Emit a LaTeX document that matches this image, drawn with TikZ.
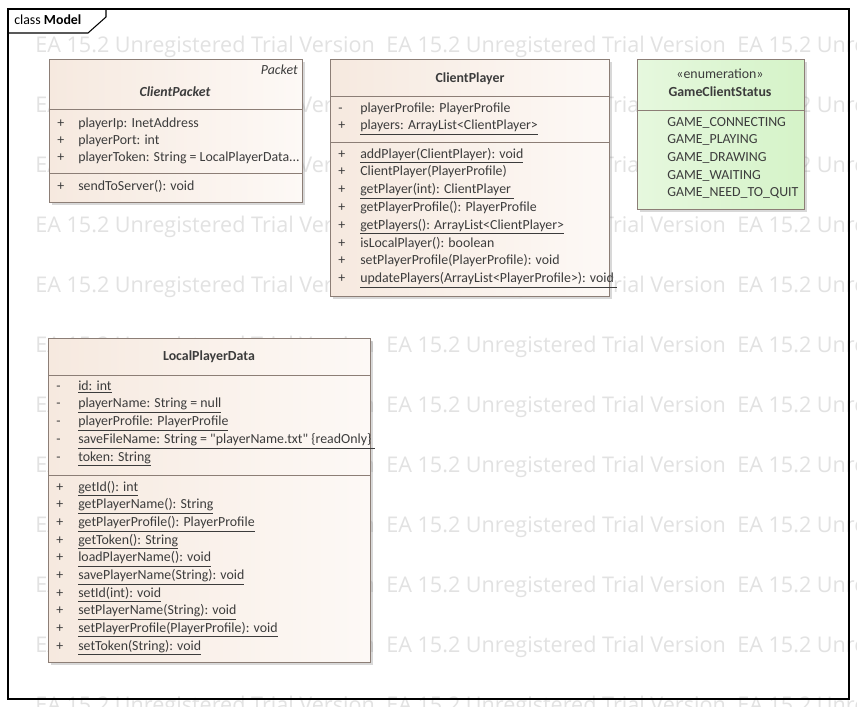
\documentclass[tikz,border=0pt]{standalone}
\usepackage{fontspec}
\setmainfont{Carlito}[Ligatures=TeXOff]
\newfontfamily\wmfont{Open Sans}
\usetikzlibrary{shadows}
\definecolor{BoxLine}{HTML}{8C7E76}
\definecolor{ClassLeft}{HTML}{F6E9DF}
\definecolor{ClassRight}{HTML}{FDF9F6}
\definecolor{EnumLeft}{HTML}{E6F8DE}
\definecolor{EnumRight}{HTML}{D5F3C8}
\definecolor{TextGrey}{HTML}{3C3C3C}
\definecolor{WaterGrey}{HTML}{E2E2E2}
\tikzset{
  classbox/.style={draw=BoxLine, left color=ClassLeft, right color=ClassRight,
    drop shadow={shadow xshift=2.2pt, shadow yshift=-2.2pt, opacity=0.3}},
  enumbox/.style={classbox, left color=EnumLeft, right color=EnumRight},
  divider/.style={draw=BoxLine},
  frameline/.style={draw=black, line width=0.8pt},
  member/.style={anchor=mid west, inner sep=0pt, text=TextGrey,
    font=\fontsize{10.4}{12}\selectfont},
  classname/.style={member, anchor=mid, font=\fontsize{10.4}{12}\selectfont\bfseries},
  watermark/.style={anchor=mid west, inner sep=0pt, text=WaterGrey,
    font=\wmfont\fontsize{16.2}{19}\selectfont}
}
\begin{document}
\begin{tikzpicture}[x=0.75pt, y=-0.75pt]
  \useasboundingbox (0,0) rectangle (857,707);
  \fill[white] (0,0) rectangle (857,707);

  % trial watermark
  \begin{scope}
    \clip (0,0) rectangle (857,707);
    \foreach \r in {0,...,11}{%
      \foreach \c in {0,1,2}{%
        \node[watermark] (wm-\r-\c) at (35+351*\c, 49+60*\r) {EA 15.2 Unregistered Trial Version};
      }
    }
  \end{scope}

  % diagram frame
  \draw[frameline] (8,9) rectangle (849,699);
  \draw[frameline] (8,33) -- (88,33) -- (106,17) -- (106,9);
  \node[member, text=black] (frame-title) at (14,21) {class \textbf{Model}};

  % ClientPacket
  \draw[classbox] (49,59) rectangle (302,202);
  \draw[divider] (49,109) -- (302,109);
  \draw[divider] (49,173) -- (302,173);
  \node[member, anchor=mid east, font=\fontsize{10.4}{12}\selectfont\itshape] (cpk-parent) at (298,71) {Packet};
  \node[classname, font=\fontsize{10.4}{12}\selectfont\bfseries\itshape] (cpk-name) at (175,93) {ClientPacket};
  \foreach \i/\txt in {0/{playerIp: InetAddress},
                       1/{playerPort: int},
                       2/{playerToken: String = LocalPlayerData...}}{%
    \node[member] (cpk-vis\i) at (57,124+17.2*\i) {+};
    \node[member] (cpk-att\i) at (78,124+17.2*\i) {\txt};
  }
  \node[member] (cpk-visop) at (57,187) {+};
  \node[member] (cpk-op0) at (78,187) {sendToServer(): void};

  % ClientPlayer
  \draw[classbox] (330,59) rectangle (609,296);
  \draw[divider] (330,96) -- (609,96);
  \draw[divider] (330,142) -- (609,142);
  \node[classname] (cpl-name) at (470,79) {ClientPlayer};
  \foreach \i/\sym/\txt in {0/-/{playerProfile: PlayerProfile},
                            1/+/{\underline{players: ArrayList<ClientPlayer>}}}{%
    \node[member] (cpl-vis\i) at (338,109+17.8*\i) {\sym};
    \node[member] (cpl-att\i) at (360,109+17.8*\i) {\txt};
  }
  \foreach \i/\txt in {0/{\underline{addPlayer(ClientPlayer): void}},
                       1/{ClientPlayer(PlayerProfile)},
                       2/{\underline{getPlayer(int): ClientPlayer\ }},
                       3/{getPlayerProfile(): PlayerProfile},
                       4/{\underline{getPlayers(): ArrayList<ClientPlayer>}},
                       5/{isLocalPlayer(): boolean},
                       6/{setPlayerProfile(PlayerProfile): void},
                       7/{\underline{updatePlayers(ArrayList<PlayerProfile>): void\ }}}{%
    \node[member] (cpl-visop\i) at (338,155+17.8*\i) {+};
    \node[member] (cpl-op\i) at (360,155+17.8*\i) {\txt};
  }

  % GameClientStatus
  \draw[enumbox] (637,59) rectangle (804,209);
  \draw[divider] (637,110) -- (804,110);
  \node[classname, font=\fontsize{10.4}{12}\selectfont] (gcs-stereo) at (720,75) {«enumeration»};
  \node[classname] (gcs-name) at (720,93) {GameClientStatus};
  \foreach \i/\txt in {0/GAME\_CONNECTING, 1/GAME\_PLAYING, 2/GAME\_DRAWING,
                       3/GAME\_WAITING, 4/GAME\_NEED\_TO\_QUIT}{%
    \node[member] (gcs-lit\i) at (667,123+17.7*\i) {\txt};
  }

  % LocalPlayerData
  \draw[classbox] (48,338) rectangle (370,662);
  \draw[divider] (48,375) -- (370,375);
  \draw[divider] (48,475) -- (370,475);
  \node[classname] (lpd-name) at (209,357) {LocalPlayerData};
  \foreach \i/\txt in {0/{id: int},
                       1/{playerName: String = null},
                       2/{playerProfile: PlayerProfile},
                       3/{saveFileName: String = "playerName.txt" \{readOnly\}\ },
                       4/{token: String}}{%
    \node[member] (lpd-vis\i) at (56,387+17.8*\i) {-};
    \node[member] (lpd-att\i) at (78,387+17.8*\i) {\underline{\txt}};
  }
  \foreach \i/\txt in {0/{getId(): int},
                       1/{getPlayerName(): String},
                       2/{getPlayerProfile(): PlayerProfile},
                       3/{getToken(): String},
                       4/{loadPlayerName(): void},
                       5/{savePlayerName(String): void},
                       6/{setId(int): void},
                       7/{setPlayerName(String): void},
                       8/{setPlayerProfile(PlayerProfile): void},
                       9/{setToken(String): void}}{%
    \node[member] (lpd-visop\i) at (56,488+17.67*\i) {+};
    \node[member] (lpd-op\i) at (78,488+17.67*\i) {\underline{\txt}};
  }
\end{tikzpicture}
\end{document}
